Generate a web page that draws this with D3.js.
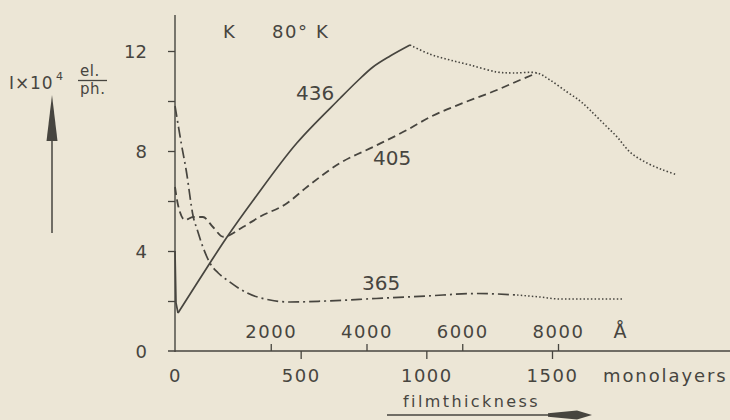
<!DOCTYPE html>
<html>
<head>
<meta charset="utf-8">
<script src="https://cdn.jsdelivr.net/npm/d3@7"></script>
<style>
  html, body { margin: 0; padding: 0; background: #ece6d6; }
  svg { display: block; }
  text { font-family: "DejaVu Sans", sans-serif; fill: #47453f; }
</style>
</head>
<body>
<svg id="chart" width="730" height="420"></svg>
<script>
// ---- data ----
const yTicks = [0, 2, 4, 6, 8, 10, 12];
const yLabels = [0, 4, 8, 12];
const mlTicks = [0, 500, 1000, 1500];
const angTicks = [2000, 4000, 6000, 8000];

// 436 nm (solid): initial drop, then rise
const th436 = [0, 4, 12, 139, 207, 312, 484, 657, 723, 789, 856, 935];
const v436  = [4.0, 1.92, 1.52, 3.52, 4.56, 6.04, 8.31, 10.11, 10.77, 11.37, 11.8, 12.24];
// 405 nm (dashed)
const th405 = [0, 12, 40, 72, 111, 151, 192, 272, 338, 444, 525, 657, 788, 923, 1015, 1146, 1281, 1373, 1440];
const v405  = [6.56, 5.84, 5.24, 5.36, 5.36, 4.96, 4.57, 4.97, 5.37, 5.9, 6.56, 7.52, 8.16, 8.84, 9.36, 9.92, 10.44, 10.84, 11.12];
// 365 nm (dash-dot)
const th365 = [0, 10, 25, 45, 72, 90, 111, 139, 172, 207, 287, 378, 458, 600, 800, 1000, 1200, 1361];
const v365  = [9.8, 9.2, 8.3, 7.2, 5.4, 4.8, 4.16, 3.52, 3.12, 2.84, 2.32, 2.04, 1.96, 2.0, 2.1, 2.2, 2.3, 2.24];
// dotted continuations
const thDot436 = [935, 1015, 1094, 1174, 1281, 1345, 1440, 1492, 1560, 1612, 1651, 1703, 1759, 1811, 1878, 1942, 1998];
const vDot436  = [12.24, 11.87, 11.64, 11.44, 11.16, 11.12, 11.12, 10.84, 10.36, 10.0, 9.64, 9.12, 8.56, 7.95, 7.52, 7.24, 7.04];
const thDot365 = [1361, 1452, 1532, 1779];
const vDot365  = [2.24, 2.16, 2.08, 2.08];

const ink = "#47453f";
const svg = d3.select("#chart");

svg.append("rect").attr("width", 730).attr("height", 420).attr("fill", "#ece6d6");

const x = d3.scaleLinear().domain([0, 1500]).range([175, 552]);
const xA = d3.scaleLinear().domain([0, 8000]).range([175, 558]);
const y = d3.scaleLinear().domain([0, 12]).range([351, 51]);
const fmt = d3.format("d");

// axis lines
svg.append("line").attr("x1", x(0)).attr("x2", x(0)).attr("y1", 15).attr("y2", y(0) + 1)
  .attr("stroke", ink).attr("stroke-width", 1.4);
svg.append("line").attr("x1", x(0) - 7).attr("x2", 730).attr("y1", y(0)).attr("y2", y(0))
  .attr("stroke", ink).attr("stroke-width", 1.4);

// y axis
const gy = svg.append("g").attr("transform", `translate(${x(0)},0)`)
  .call(d3.axisLeft(y).tickValues(yTicks).tickSize(7).tickPadding(21)
    .tickFormat(d => yLabels.includes(d) ? fmt(d) : ""));
gy.select(".domain").remove();
gy.selectAll(".tick line").attr("stroke", ink).attr("stroke-width", 1.3);
gy.selectAll(".tick line").filter(d => d === 0).remove();
gy.selectAll("text").attr("font-size", 18).attr("dy", "0.38em")
  .attr("font-family", "DejaVu Sans").style("fill", ink);

// bottom axis (monolayers)
const gx = svg.append("g").attr("transform", `translate(0,${y(0)})`)
  .call(d3.axisBottom(x).tickValues(mlTicks).tickSize(8).tickFormat(fmt));
gx.select(".domain").remove();
gx.selectAll(".tick line").attr("stroke", ink).attr("stroke-width", 1.3);
gx.selectAll(".tick line").filter(d => d === 0).remove();
gx.selectAll("text").attr("font-size", 18).attr("y", 31).attr("dy", 0)
  .attr("letter-spacing", 1.5).attr("font-family", "DejaVu Sans").style("fill", ink);

// top axis (Angstrom)
const ga = svg.append("g").attr("transform", `translate(0,${y(0)})`)
  .call(d3.axisTop(xA).tickValues(angTicks).tickSize(7).tickFormat(fmt));
ga.select(".domain").remove();
ga.selectAll(".tick line").attr("stroke", ink).attr("stroke-width", 1.3);
ga.selectAll("text").attr("font-size", 18).attr("y", -13).attr("dy", 0)
  .attr("letter-spacing", 1.5).attr("font-family", "DejaVu Sans").style("fill", ink);

svg.append("text").attr("x", 620).attr("y", 338).attr("text-anchor", "middle")
  .attr("font-size", 19).text("Å");
svg.append("text").attr("x", 603).attr("y", 382).attr("font-size", 18)
  .attr("letter-spacing", 1.9).text("monolayers");

// filmthickness with arrow
svg.append("text").attr("x", 403).attr("y", 407).attr("font-size", 16)
  .attr("letter-spacing", 2.4).text("filmthickness");
svg.append("line").attr("x1", 387).attr("x2", 560).attr("y1", 415).attr("y2", 415)
  .attr("stroke", ink).attr("stroke-width", 1.6);
svg.append("path").attr("d", "M548,413.2 L577,410.5 L592,415 L577,419.5 L548,416.8 Z").attr("fill", ink);

// y label with arrow
svg.append("text").attr("x", 9).attr("y", 89).attr("font-size", 17).attr("letter-spacing", 0.9)
  .text("I×10");
svg.append("text").attr("x", 56).attr("y", 80).attr("font-size", 11).text("4");
svg.append("text").attr("x", 80).attr("y", 76).attr("font-size", 15).attr("letter-spacing", 0.6).text("el.");
svg.append("line").attr("x1", 78).attr("x2", 107).attr("y1", 80.5).attr("y2", 80.5)
  .attr("stroke", ink).attr("stroke-width", 1.3);
svg.append("text").attr("x", 80).attr("y", 94).attr("font-size", 15).attr("letter-spacing", 0.6).text("ph.");
svg.append("line").attr("x1", 52).attr("x2", 52).attr("y1", 138).attr("y2", 233)
  .attr("stroke", ink).attr("stroke-width", 1.5);
svg.append("path").attr("d", "M46.5,141 L52,95 L57.5,141 Z").attr("fill", ink);

// temperature labels
svg.append("text").attr("x", 223).attr("y", 38).attr("font-size", 18).text("K");
svg.append("text").attr("x", 272).attr("y", 38).attr("font-size", 18).attr("letter-spacing", 1.6).text("80° K");

// curves
const lineSmooth = d3.line().x(d => x(d[0])).y(d => y(d[1])).curve(d3.curveMonotoneX);
const lineStraight = d3.line().x(d => x(d[0])).y(d => y(d[1]));
const lineCR = d3.line().x(d => x(d[0])).y(d => y(d[1])).curve(d3.curveCatmullRom.alpha(0.5));
const zip = (a, b) => a.map((t, i) => [t, b[i]]);

const pts436 = zip(th436, v436);
// sharp drop at the start and sharp minimum: straight segments up to the minimum
svg.append("path").datum(pts436.slice(0, 3)).attr("d", lineStraight)
  .attr("fill", "none").attr("stroke", ink).attr("stroke-width", 1.7);
svg.append("path").datum(pts436.slice(2)).attr("d", lineCR)
  .attr("fill", "none").attr("stroke", ink).attr("stroke-width", 1.7);
svg.append("path").datum(zip(th405, v405)).attr("d", lineSmooth)
  .attr("fill", "none").attr("stroke", ink).attr("stroke-width", 1.8)
  .attr("stroke-dasharray", "8,4.5");
svg.append("path").datum(zip(th365, v365)).attr("d", lineSmooth)
  .attr("fill", "none").attr("stroke", ink).attr("stroke-width", 1.7)
  .attr("stroke-dasharray", "11,4,2,4");
svg.append("path").datum(zip(thDot436, vDot436)).attr("d", lineCR)
  .attr("fill", "none").attr("stroke", ink).attr("stroke-width", 1.6)
  .attr("stroke-dasharray", "1.5,2.2");
svg.append("path").datum(zip(thDot365, vDot365)).attr("d", lineSmooth)
  .attr("fill", "none").attr("stroke", ink).attr("stroke-width", 1.5)
  .attr("stroke-dasharray", "1.5,2.2");

// curve labels
svg.append("text").attr("x", 296).attr("y", 100).attr("font-size", 20).text("436");
svg.append("text").attr("x", 373).attr("y", 165).attr("font-size", 20).text("405");
svg.append("text").attr("x", 362).attr("y", 290).attr("font-size", 20).text("365");
</script>
</body>
</html>
